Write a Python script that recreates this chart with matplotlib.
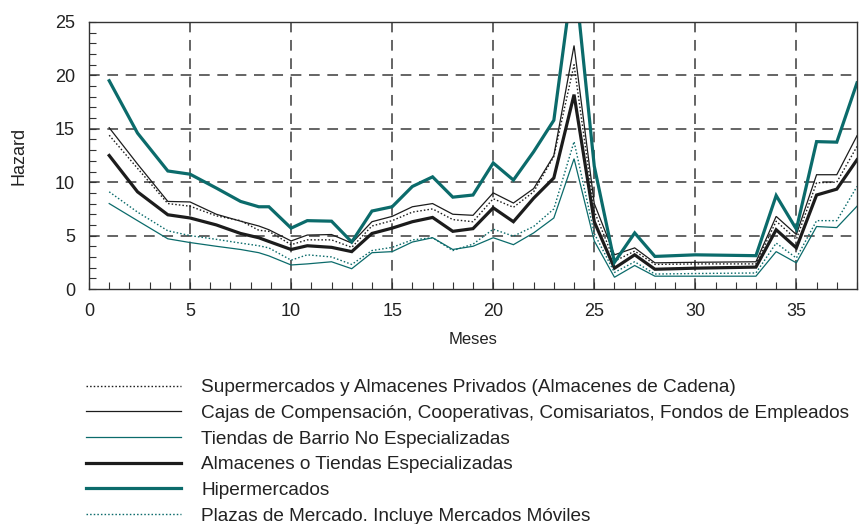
import matplotlib
matplotlib.use("Agg")
import matplotlib.pyplot as plt
from matplotlib.ticker import MultipleLocator
from matplotlib import font_manager

# ---------------- data ----------------
meses = [1, 2.4, 3.9, 5, 6.3, 7.5, 8.4, 8.9, 10, 10.8, 12, 13, 14, 15, 16, 17,
         18, 19, 20, 21, 22, 23, 24, 25, 26, 27, 28, 30, 33, 34, 35, 36, 37, 38]

supermercados = [14.4, 11.3, 8.0, 7.75, 6.85, 6.4, 5.5, 5.4, 4.15, 4.6, 4.6, 3.9,
                 5.9, 6.4, 7.2, 7.5, 6.5, 6.3, 8.45, 7.65, 9.1, 12.4, 21.0, 7.3,
                 2.6, 3.55, 2.3, 2.35, 2.35, 6.35, 4.65, 9.95, 10.0, 13.35]

cajas = [15.1, 11.7, 8.2, 8.15, 7.0, 6.35, 5.9, 5.55, 4.5, 5.05, 5.1, 4.3,
         6.3, 6.8, 7.7, 8.0, 7.0, 6.9, 9.0, 8.05, 9.4, 12.5, 22.8, 8.0,
         3.2, 3.85, 2.45, 2.5, 2.55, 6.8, 5.1, 10.7, 10.7, 14.35]

tiendas_barrio = [8.0, 6.4, 4.7, 4.35, 4.0, 3.7, 3.4, 3.1, 2.25, 2.35, 2.55, 1.9,
                  3.4, 3.5, 4.4, 4.8, 3.7, 4.0, 4.8, 4.15, 5.25, 6.65, 12.2, 4.5,
                  1.1, 2.2, 1.2, 1.2, 1.2, 3.5, 2.45, 5.85, 5.75, 7.75]

almacenes = [12.5, 9.1, 6.95, 6.65, 6.0, 5.2, 4.8, 4.45, 3.7, 4.05, 3.9, 3.5,
             5.2, 5.7, 6.3, 6.7, 5.4, 5.65, 7.6, 6.3, 8.5, 10.4, 18.2, 6.3,
             1.95, 3.2, 1.85, 1.95, 2.05, 5.55, 3.85, 8.8, 9.35, 12.1]

hipermercados = [19.5, 14.6, 11.05, 10.75, 9.45, 8.2, 7.7, 7.7, 5.7, 6.4, 6.35, 4.4,
                 7.3, 7.7, 9.6, 10.5, 8.6, 8.8, 11.8, 10.2, 12.85, 15.8, 30.0, 11.5,
                 2.5, 5.25, 3.05, 3.2, 3.12, 8.75, 5.6, 13.8, 13.75, 19.3]

plazas = [9.1, 7.2, 5.45, 5.0, 4.65, 4.3, 4.05, 3.85, 2.7, 3.2, 3.0, 2.3,
          3.6, 3.9, 4.6, 4.8, 3.6, 4.2, 5.6, 4.95, 5.85, 7.5, 13.8, 5.2,
          1.55, 2.55, 1.4, 1.45, 1.5, 4.3, 2.9, 6.4, 6.4, 9.6]

labels = [
    "Supermercados y Almacenes Privados (Almacenes de Cadena)",
    "Cajas de Compensación, Cooperativas, Comisariatos, Fondos de Empleados",
    "Tiendas de Barrio No Especializadas",
    "Almacenes o Tiendas Especializadas",
    "Hipermercados",
    "Plazas de Mercado. Incluye Mercados Móviles",
]
x_ticks = [0, 5, 10, 15, 20, 25, 30, 35]
y_ticks = [0, 5, 10, 15, 20, 25]

# ---------------- style ----------------
names = {f.name for f in font_manager.fontManager.ttflist}
fam = "Liberation Sans Narrow" if "Liberation Sans Narrow" in names else "Liberation Sans"
plt.rcParams["font.family"] = [fam, "DejaVu Sans"]

TEAL = "#0b6b6b"
BLACK = "#1c1c1c"
GRID = "#3a3a3a"

fig = plt.figure(figsize=(8.6, 5.24), dpi=100)
ax = fig.add_axes([89 / 860, 1 - 289 / 524, (857 - 89) / 860, (289 - 22) / 524])

series = [
    (supermercados, dict(color=BLACK, lw=1.0, ls=(0, (1.1, 1.5)))),
    (cajas, dict(color=BLACK, lw=0.9, ls="-")),
    (tiendas_barrio, dict(color=TEAL, lw=0.9, ls="-")),
    (almacenes, dict(color=BLACK, lw=2.3, ls="-")),
    (hipermercados, dict(color=TEAL, lw=2.3, ls="-")),
    (plazas, dict(color=TEAL, lw=1.0, ls=(0, (1.1, 1.5)))),
]
for (vals, st), lab in zip(series, labels):
    ax.plot(meses, vals, label=lab, solid_joinstyle="miter", **st)

ax.set_xlim(0, 38)
ax.set_ylim(0, 25)
ax.set_xticks(x_ticks)
ax.set_yticks(y_ticks)
ax.xaxis.set_minor_locator(MultipleLocator(1))
ax.yaxis.set_minor_locator(MultipleLocator(1))
ax.tick_params(which="both", direction="in", length=5, width=0.8, color="#333333",
               top=False, right=False)
ax.tick_params(which="major", labelsize=13, pad=10, labelcolor="#222222")
for s in ax.spines.values():
    s.set_color("#333333")
    s.set_linewidth(1.0)

for xv in x_ticks[1:]:
    ax.axvline(xv, color=GRID, lw=1.1, ls=(0, (7, 5)), zorder=0.5)
for yv in y_ticks[1:-1]:
    ax.axhline(yv, color=GRID, lw=1.1, ls=(0, (7, 5)), zorder=0.5)

ax.set_xlabel("Meses", fontsize=12, labelpad=9, color="#222222")
ax.set_ylabel("Hazard", fontsize=13, labelpad=20, color="#222222")

leg = ax.legend(loc="upper left", bbox_to_anchor=(86 / 860, 1 - 379 / 524),
                bbox_transform=fig.transFigure, frameon=False, fontsize=13.7,
                handlelength=5.0, handletextpad=1.05, labelspacing=0.44,
                borderpad=0, borderaxespad=0)
for t in leg.get_texts():
    t.set_color("#222222")

fig.savefig("out.png", dpi=100)
